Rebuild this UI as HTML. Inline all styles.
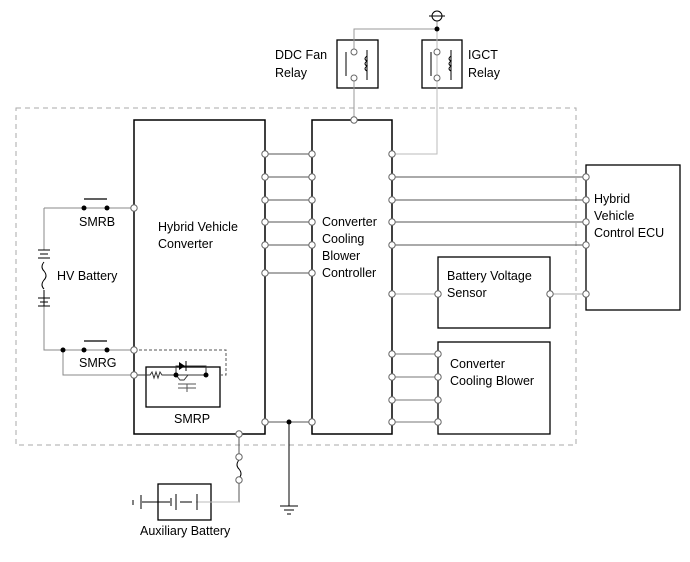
<!DOCTYPE html>
<html><head><style>body{margin:0;background:#fff}svg{display:block}text{font-family:"Liberation Sans",sans-serif;font-size:12.5px;fill:#000}</style></head><body>
<svg width="690" height="562" viewBox="0 0 690 562" xmlns="http://www.w3.org/2000/svg">
<g fill="none" stroke-width="1">
<rect x="16" y="108" width="560" height="337" stroke="#aaa" stroke-dasharray="5,4"/>
<rect x="134" y="120" width="131" height="314" stroke="#000" stroke-width="1.5"/>
<rect x="312" y="120" width="80" height="314" stroke="#000" stroke-width="1.5"/>
<rect x="586" y="165" width="94" height="145" stroke="#000" stroke-width="1.3"/>
<rect x="438" y="257" width="112" height="71" stroke="#000" stroke-width="1.3"/>
<rect x="438" y="342" width="112" height="92" stroke="#000" stroke-width="1.3"/>
<rect x="337" y="40" width="41" height="48" stroke="#000" stroke-width="1.3"/>
<rect x="422" y="40" width="40" height="48" stroke="#000" stroke-width="1.3"/>
<rect x="146" y="367" width="74" height="40" stroke="#000" stroke-width="1.3"/>
<rect x="158" y="484" width="53" height="36" stroke="#000" stroke-width="1.3"/>
<!-- relay wiring -->
<path d="M437 16V29H354V52M354 78V120" stroke="#999"/>
<path d="M437 29V78M437 52V154H392" stroke="#bbb"/>
<path d="M346 52V76M431 52V76" stroke="#000"/>
<path d="M367 50V80M451 50V80" stroke="#000"/>
<circle cx="354" cy="52" r="3" stroke="#666" fill="#fff"/><circle cx="354" cy="78" r="3" stroke="#666" fill="#fff"/>
<circle cx="437" cy="52" r="3" stroke="#666" fill="#fff"/><circle cx="437" cy="78" r="3" stroke="#666" fill="#fff"/>
<path d="M367 56q-4 3 0 5q-4 3 0 5q-4 3 0 5M451 56q-4 3 0 5q-4 3 0 5q-4 3 0 5" stroke="#000"/>
<circle cx="437" cy="16" r="5" stroke="#000" fill="#fff"/><path d="M429 16H445" stroke="#000"/>
<circle cx="437" cy="29" r="2.5" fill="#000"/>
<!-- between converters -->
<path d="M265 154H312M265 177H312M265 200H312M265 222H312M265 245H312M265 273H312M265 422H312" stroke="#555"/>
<path d="M392 177H586M392 200H586M392 222H586M392 245H586" stroke="#555"/>
<path d="M392 294H438M550 294H586" stroke="#aaa"/>
<path d="M392 354H438M392 377H438M392 400H438M392 422H438" stroke="#777"/>
<path d="M289 422V506M280 506H298M284 510H294M287 514H291" stroke="#000"/>
<circle cx="289" cy="422" r="2.5" fill="#000"/>
<!-- HV side -->
<path d="M44 208H134M44 208V250M44 290V350H134M63 350V375H146" stroke="#888"/>
<path d="M84 199H107M84 341H107" stroke="#000" stroke-width="1.3"/>
<circle cx="84" cy="208" r="2.5" fill="#000"/><circle cx="107" cy="208" r="2.5" fill="#000"/>
<circle cx="84" cy="350" r="2.5" fill="#000"/><circle cx="107" cy="350" r="2.5" fill="#000"/><circle cx="63" cy="350" r="2.5" fill="#000"/>
<path d="M38 250H50M40 254H48M38 258H50M38 298H50M40 302H48M38 306H50M44 306V290" stroke="#000"/>
<path d="M44 262q-4 5 0 9q4 5 0 9q-4 5 0 9" stroke="#000"/>
<path d="M134 350H226V375H220" stroke="#555" stroke-dasharray="3,2"/>
<path d="M134 375H150l2-3 2 6 2-6 2 6 2-6 2 3H206M176 375V366H206V375M176 375l4 5 4 0 4-5" stroke="#333"/>
<path d="M179 362l6 4-6 4z" fill="#000"/><path d="M186 361V371" stroke="#000"/>
<path d="M178 384H196M187 384V392M178 388H196" stroke="#555"/>
<circle cx="176" cy="375" r="2.5" fill="#000"/><circle cx="206" cy="375" r="2.5" fill="#000"/>
<!-- aux battery -->
<path d="M239 434V457M239 480V502H211" stroke="#555"/>
<path d="M239 502H196" stroke="#bbb"/>
<path d="M239 460q-4 5 0 9q4 5 0 9" stroke="#000"/>
<path d="M142 502H170M141 495V509M133 500V505M171 498V506M176 494V510M180 502H192M197 494V510" stroke="#000"/>
</g>
<g fill="#fff" stroke="#666">
<circle cx="134" cy="208" r="3.2"/><circle cx="134" cy="350" r="3.2"/><circle cx="134" cy="375" r="3.2"/>
<circle cx="354" cy="120" r="3.2"/><circle cx="239" cy="434" r="3.2"/><circle cx="239" cy="457" r="3.2"/><circle cx="239" cy="480" r="3.2"/>
<circle cx="265" cy="154" r="3.2"/><circle cx="265" cy="177" r="3.2"/><circle cx="265" cy="200" r="3.2"/><circle cx="265" cy="222" r="3.2"/><circle cx="265" cy="245" r="3.2"/><circle cx="265" cy="273" r="3.2"/><circle cx="265" cy="422" r="3.2"/>
<circle cx="312" cy="154" r="3.2"/><circle cx="312" cy="177" r="3.2"/><circle cx="312" cy="200" r="3.2"/><circle cx="312" cy="222" r="3.2"/><circle cx="312" cy="245" r="3.2"/><circle cx="312" cy="273" r="3.2"/><circle cx="312" cy="422" r="3.2"/>
<circle cx="392" cy="154" r="3.2"/><circle cx="392" cy="177" r="3.2"/><circle cx="392" cy="200" r="3.2"/><circle cx="392" cy="222" r="3.2"/><circle cx="392" cy="245" r="3.2"/><circle cx="392" cy="294" r="3.2"/><circle cx="392" cy="354" r="3.2"/><circle cx="392" cy="377" r="3.2"/><circle cx="392" cy="400" r="3.2"/><circle cx="392" cy="422" r="3.2"/>
<circle cx="586" cy="177" r="3.2"/><circle cx="586" cy="200" r="3.2"/><circle cx="586" cy="222" r="3.2"/><circle cx="586" cy="245" r="3.2"/><circle cx="586" cy="294" r="3.2"/>
<circle cx="438" cy="294" r="3.2"/><circle cx="550" cy="294" r="3.2"/>
<circle cx="438" cy="354" r="3.2"/><circle cx="438" cy="377" r="3.2"/><circle cx="438" cy="400" r="3.2"/><circle cx="438" cy="422" r="3.2"/>
</g>
<text x="275" y="59">DDC Fan</text><text x="275" y="77">Relay</text>
<text x="468" y="59">IGCT</text><text x="468" y="77">Relay</text>
<text x="158" y="231">Hybrid Vehicle</text><text x="158" y="248">Converter</text>
<text x="322" y="226">Converter</text><text x="322" y="243">Cooling</text><text x="322" y="260">Blower</text><text x="322" y="277">Controller</text>
<text x="594" y="203">Hybrid</text><text x="594" y="220">Vehicle</text><text x="594" y="237">Control ECU</text>
<text x="447" y="280">Battery Voltage</text><text x="447" y="297">Sensor</text>
<text x="450" y="368">Converter</text><text x="450" y="385">Cooling Blower</text>
<text x="79" y="226">SMRB</text><text x="79" y="367">SMRG</text><text x="174" y="423">SMRP</text>
<text x="57" y="280">HV Battery</text><text x="140" y="535">Auxiliary Battery</text>
</svg>
</body></html>
